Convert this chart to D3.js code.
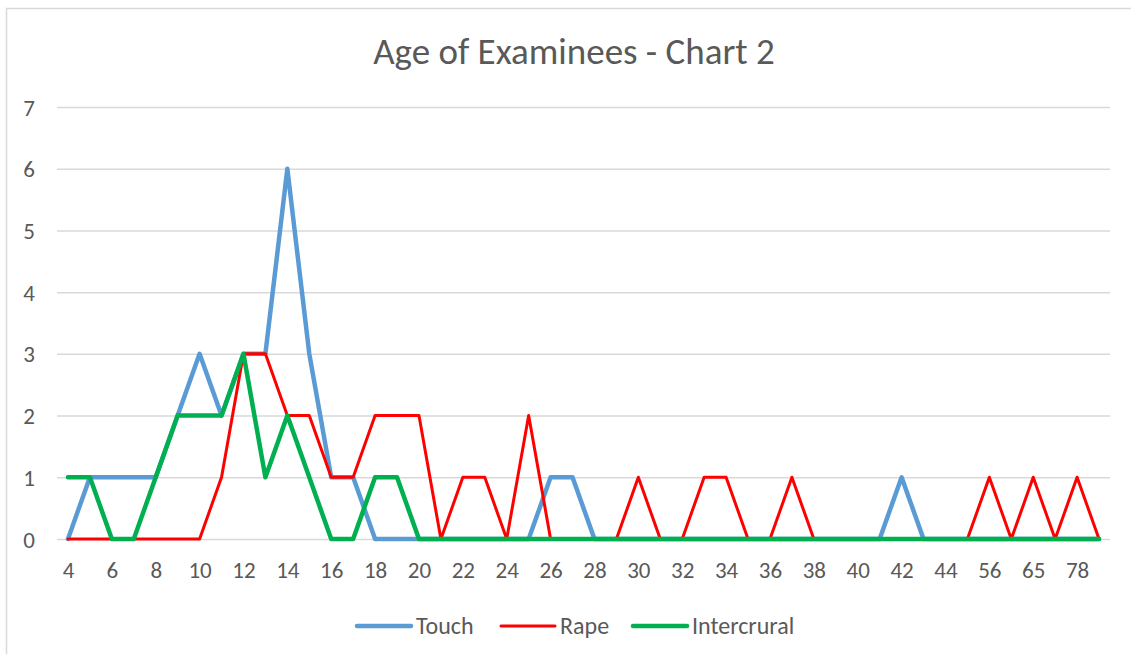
<!DOCTYPE html>
<html lang="en">
  <head>
    <meta charset="UTF-8" />
    <title>Age of Examinees - Chart 2</title>
    <style>
      body {
        margin: 0;
        background: #fff;
      }
      text {
        font-family: Calibri, Carlito, "Open Sans", "Liberation Sans", sans-serif;
        fill: #595959;
      }
    </style>
  </head>
  <body>
    <script src="https://d3js.org/d3.v7.min.js"></script>
    <script>

// ages on the category axis (only every other one is labelled)
var ages = ["4","5","6","7","8","9","10","11","12","13","14","15","16","17","18","19","20",
  "21","22","23","24","25","26","27","28","29","30","31","32","33","34","35","36","37","38",
  "39","40","41","42","43","44","50","56","60","65","70","78","80"];

var touch = [0,1,1,1,1,2,3,2,3,3,6,3,1,1,0,0,0,0,0,0,0,0,1,1,0,0,0,0,0,0,0,0,0,0,0,
  0,0,0,1,0,0,0,0,0,0,0,0,0];
var rape = [0,0,0,0,0,0,0,1,3,3,2,2,1,1,2,2,2,0,1,1,0,2,0,0,0,0,1,0,0,1,1,0,0,1,0,
  0,0,0,0,0,0,0,1,0,1,0,1,0];
var intercrural = [1,1,0,0,1,2,2,2,3,1,2,1,0,0,1,1,0,0,0,0,0,0,0,0,0,0,0,0,0,0,0,
  0,0,0,0,0,0,0,0,0,0,0,0,0,0,0,0,0];

var yTicks = [0,1,2,3,4,5,6,7];

var series = [
  {name: "Touch", values: touch, color: "#5b9bd5", width: 4.5},
  {name: "Rape", values: rape, color: "#ff0000", width: 3},
  {name: "Intercrural", values: intercrural, color: "#00b050", width: 4.5}
];

var width = 1131, height = 654;
var plotLeft = 57, plotRight = 1110, plotTop = 107, plotBottom = 539;

var svg = d3.select("body").append("svg")
  .attr("width", width)
  .attr("height", height);

// chart frame
svg.append("rect")
  .attr("x", 6.5).attr("y", 8.5)
  .attr("width", 1200).attr("height", 800)
  .attr("fill", "none")
  .attr("stroke", "#d9d9d9")
  .attr("stroke-width", 1.5);

svg.append("text")
  .attr("x", 574).attr("y", 64)
  .attr("text-anchor", "middle")
  .style("font-size", "37px")
  .text("Age of Examinees - Chart 2");

var x = d3.scalePoint()
  .domain(ages)
  .range([plotLeft, plotRight])
  .padding(0.5);

var y = d3.scaleLinear()
  .domain([0, 7])
  .range([plotBottom, plotTop]);

// gridlines
svg.append("g")
  .selectAll("line")
  .data(yTicks)
  .enter()
  .append("line")
  .attr("x1", plotLeft).attr("x2", plotRight)
  .attr("y1", function(d){ return y(d) + 0.5; })
  .attr("y2", function(d){ return y(d) + 0.5; })
  .attr("stroke", "#d9d9d9")
  .attr("stroke-width", 1.5);

// y axis labels
var yAxis = svg.append("g")
  .attr("transform", "translate(" + (plotLeft - 22) + ",0)")
  .call(d3.axisLeft(y).tickValues(yTicks).tickFormat(d3.format("d")).tickSize(0).tickPadding(0));
yAxis.select(".domain").remove();
yAxis.selectAll("text")
  .attr("dy", "0.35em")
  .style("font-size", "23px")
  .style("font-family", "Calibri, Carlito, 'Open Sans', sans-serif")
  .style("fill", "#595959");

// x axis labels
var xAxis = svg.append("g")
  .attr("transform", "translate(0," + plotBottom + ")")
  .call(d3.axisBottom(x)
    .tickValues(ages.filter(function(d, i){ return i % 2 === 0; }))
    .tickSize(0)
    .tickPadding(23));
xAxis.select(".domain").remove();
xAxis.selectAll("text")
  .attr("dy", "0.71em")
  .style("font-size", "23px")
  .style("font-family", "Calibri, Carlito, 'Open Sans', sans-serif")
  .style("fill", "#595959");

var line = d3.line()
  .x(function(d, i){ return x(ages[i]); })
  .y(function(d){ return y(d); })
  .curve(d3.curveLinear);

svg.append("g")
  .selectAll("path")
  .data(series)
  .enter()
  .append("path")
  .attr("d", function(d){ return line(d.values); })
  .attr("fill", "none")
  .attr("stroke", function(d){ return d.color; })
  .attr("stroke-width", function(d){ return d.width; })
  .attr("stroke-linejoin", "round")
  .attr("stroke-linecap", "round");

// legend
var legendX = [357, 501, 633];
var legend = svg.append("g")
  .selectAll("g")
  .data(series)
  .enter()
  .append("g")
  .attr("transform", function(d, i){ return "translate(" + legendX[i] + ",626)"; });

legend.append("line")
  .attr("x1", 0).attr("x2", 54)
  .attr("y1", 0).attr("y2", 0)
  .attr("stroke", function(d){ return d.color; })
  .attr("stroke-width", function(d){ return d.width; })
  .attr("stroke-linecap", "round");

legend.append("text")
  .attr("x", 59).attr("y", 0)
  .attr("dy", "0.35em")
  .style("font-size", "24px")
  .text(function(d){ return d.name; });

</script>
  </body>
</html>
